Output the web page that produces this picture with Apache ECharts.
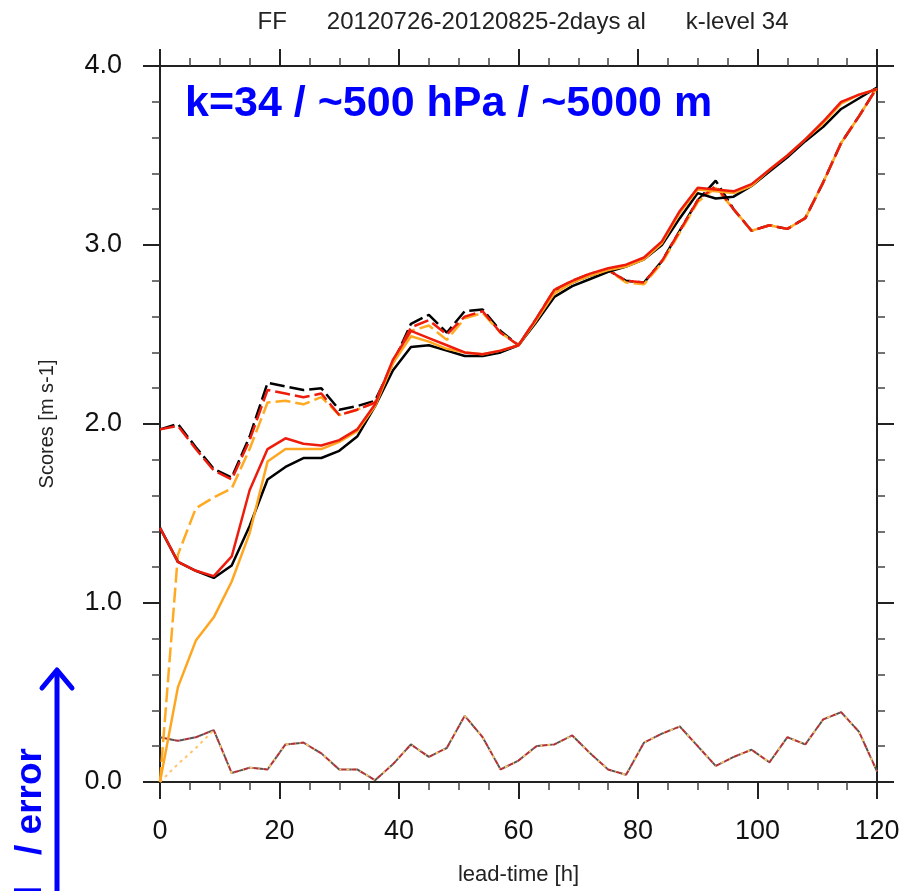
<!DOCTYPE html>
<html>
<head>
<meta charset="utf-8">
<title>FF k-level 34</title>
<script src="https://cdn.jsdelivr.net/npm/echarts@6/dist/echarts.min.js"></script>
<style>
    html, body { margin: 0; padding: 0; background: #fff; }
    #chart { width: 905px; height: 891px; }
</style>
</head>
<body>
<div id="chart"></div>
<script>
// lead times, every 3 h
var leadTime = [0, 3, 6, 9, 12, 15, 18, 21, 24, 27, 30, 33, 36, 39, 42, 45, 48, 51, 54, 57, 60,
    63, 66, 69, 72, 75, 78, 81, 84, 87, 90, 93, 96, 99, 102, 105, 108, 111, 114, 117, 120];

// solid lines
var solidBlack = [1.42, 1.23, 1.18, 1.14, 1.21, 1.43, 1.69, 1.76, 1.81, 1.81, 1.85, 1.93, 2.10, 2.30, 2.43, 2.44, 2.41, 2.38, 2.38, 2.40, 2.44,
    2.57, 2.71, 2.77, 2.81, 2.85, 2.88, 2.92, 3.00, 3.15, 3.29, 3.26, 3.27, 3.33, 3.41, 3.49, 3.58, 3.66, 3.76, 3.82, 3.88];
var solidOrange = [0.00, 0.53, 0.79, 0.92, 1.12, 1.39, 1.79, 1.86, 1.86, 1.86, 1.90, 1.96, 2.10, 2.34, 2.49, 2.46, 2.42, 2.40, 2.39, 2.41, 2.44,
    2.58, 2.73, 2.79, 2.83, 2.86, 2.88, 2.92, 3.01, 3.18, 3.31, 3.30, 3.29, 3.33, 3.42, 3.50, 3.59, 3.68, 3.79, 3.84, 3.87];
var solidRed = [1.42, 1.23, 1.18, 1.15, 1.26, 1.63, 1.86, 1.92, 1.89, 1.88, 1.91, 1.97, 2.11, 2.36, 2.52, 2.48, 2.44, 2.40, 2.39, 2.41, 2.44,
    2.59, 2.75, 2.80, 2.84, 2.87, 2.89, 2.93, 3.02, 3.19, 3.32, 3.31, 3.30, 3.34, 3.42, 3.50, 3.59, 3.69, 3.80, 3.84, 3.87];

// upper dashed lines
var dashBlack = [1.97, 2.00, 1.87, 1.75, 1.70, 1.93, 2.23, 2.21, 2.19, 2.20, 2.08, 2.10, 2.13, 2.34, 2.56, 2.61, 2.51, 2.63, 2.64, 2.52, 2.44,
    2.58, 2.74, 2.79, 2.83, 2.86, 2.80, 2.79, 2.91, 3.08, 3.25, 3.36, 3.20, 3.08, 3.11, 3.09, 3.15, 3.35, 3.57, 3.72, 3.88];
var dashOrange = [0.00, 1.27, 1.53, 1.59, 1.64, 1.86, 2.12, 2.13, 2.11, 2.15, 2.05, 2.08, 2.12, 2.34, 2.52, 2.55, 2.47, 2.59, 2.62, 2.51, 2.44,
    2.58, 2.74, 2.79, 2.83, 2.86, 2.79, 2.78, 2.90, 3.07, 3.24, 3.32, 3.20, 3.08, 3.11, 3.09, 3.15, 3.35, 3.57, 3.72, 3.88];
var dashRed = [1.97, 1.99, 1.86, 1.74, 1.69, 1.91, 2.19, 2.17, 2.15, 2.17, 2.05, 2.08, 2.12, 2.35, 2.54, 2.58, 2.50, 2.60, 2.63, 2.51, 2.44,
    2.59, 2.75, 2.80, 2.84, 2.86, 2.80, 2.79, 2.91, 3.08, 3.25, 3.33, 3.20, 3.08, 3.11, 3.09, 3.15, 3.35, 3.57, 3.72, 3.88];

// bottom dotted lines
var lowBlack = [0.25, 0.23, 0.25, 0.29, 0.05, 0.08, 0.07, 0.21, 0.22, 0.16, 0.07, 0.07, 0.01, 0.10, 0.21, 0.14, 0.19, 0.37, 0.25, 0.07, 0.12,
    0.20, 0.21, 0.26, 0.16, 0.07, 0.04, 0.22, 0.27, 0.31, 0.20, 0.09, 0.14, 0.18, 0.11, 0.25, 0.21, 0.35, 0.39, 0.28, 0.06];
var lowOrange = [0.00, 0.10, 0.19, 0.29, 0.05, 0.08, 0.07, 0.21, 0.22, 0.16, 0.07, 0.07, 0.01, 0.10, 0.21, 0.14, 0.19, 0.37, 0.25, 0.07, 0.12,
    0.20, 0.21, 0.26, 0.16, 0.07, 0.04, 0.22, 0.27, 0.31, 0.20, 0.09, 0.14, 0.18, 0.11, 0.25, 0.21, 0.35, 0.39, 0.28, 0.06];
var lowRed = lowBlack.slice();

var yTicks = ['0.0', '1.0', '2.0', '3.0', '4.0'];

(function () {
    var fig = {
        init() {
            this.chart = echarts.init(document.getElementById('chart'));
            this.draw();
        },
        pairs(ys) {
            return leadTime.map(function (h, i) { return [h, ys[i]]; });
        },
        line(name, ys, color, width, dash, offset) {
            return {
                name: name,
                type: 'line',
                data: this.pairs(ys),
                symbol: 'none',
                animation: false,
                lineStyle: { color: color, width: width, type: dash || 'solid', dashOffset: offset || 0 }
            };
        },
        axisX(pos, showLabel) {
            return {
                type: 'value', position: pos, min: 0, max: 120, interval: 20,
                axisLine: { show: true, onZero: false, lineStyle: { color: '#222', width: 2 } },
                axisTick: { show: true, inside: false, length: 17, lineStyle: { color: '#222', width: 2 } },
                minorTick: { show: true, splitNumber: 4, length: 8, lineStyle: { color: '#444', width: 1.5 } },
                splitLine: { show: false },
                axisLabel: { show: showLabel, fontSize: 27, margin: 36, color: '#111', fontFamily: 'Liberation Sans' },
                name: showLabel ? 'lead-time [h]' : '',
                nameLocation: 'middle', nameGap: 82,
                nameTextStyle: { fontSize: 22, color: '#222', fontFamily: 'Liberation Sans' }
            };
        },
        axisY(pos, showLabel) {
            return {
                type: 'value', position: pos, min: 0, max: 4, interval: 1,
                axisLine: { show: true, onZero: false, lineStyle: { color: '#222', width: 2 } },
                axisTick: { show: true, inside: false, length: 17, lineStyle: { color: '#222', width: 2 } },
                minorTick: { show: true, splitNumber: 5, length: 8, lineStyle: { color: '#444', width: 1.5 } },
                splitLine: { show: false },
                axisLabel: {
                    show: showLabel, fontSize: 27, margin: 38, color: '#111', fontFamily: 'Liberation Sans',
                    formatter: function (v) { return yTicks[Math.round(v)]; }
                },
                name: showLabel ? 'Scores [m s-1]' : '',
                nameLocation: 'middle', nameGap: 103,
                nameTextStyle: { fontSize: 20, color: '#222', fontFamily: 'Liberation Sans' }
            };
        },
        draw() {
            var option = {
                backgroundColor: '#fff',
                animation: false,
                title: {
                    text: 'FF      20120726-20120825-2days al      k-level 34',
                    left: 518, top: 5, textAlign: 'center',
                    textStyle: { fontSize: 24, fontWeight: 'normal', color: '#222', fontFamily: 'Liberation Sans' }
                },
                grid: { left: 160, right: 28, top: 66, bottom: 109 },
                xAxis: [this.axisX('bottom', true), this.axisX('top', false)],
                yAxis: [this.axisY('left', true), this.axisY('right', false)],
                series: [
                    this.line('low black', lowBlack, '#555', 2, [5, 5], 0),
                    this.line('low orange', lowOrange, '#ffc46a', 2, [3, 4], 0),
                    this.line('low red', lowRed, '#b0303c', 2, [5, 5], 5),
                    this.line('dash black', dashBlack, '#000', 2.5, [15, 5], 0),
                    this.line('dash orange', dashOrange, '#ffaa22', 2.5, [15, 5], 0),
                    this.line('dash red', dashRed, '#ee1c0c', 2.5, [15, 5], 0),
                    this.line('solid black', solidBlack, '#000', 2.5),
                    this.line('solid orange', solidOrange, '#ffa620', 2.5),
                    this.line('solid red', solidRed, '#ee1c0c', 2.5)
                ],
                graphic: [
                    {
                        type: 'text', left: 185, top: 83,
                        style: { text: 'k=34 / ~500 hPa / ~5000 m', fontSize: 43, fontWeight: 'bold', fill: '#0000ff', fontFamily: 'Liberation Sans' }
                    },
                    {
                        type: 'line', shape: { x1: 57, y1: 672, x2: 57, y2: 891 },
                        style: { stroke: '#0000ff', lineWidth: 5 }
                    },
                    {
                        type: 'polyline', shape: { points: [[42, 688], [57, 670], [72, 688]] },
                        style: { stroke: '#0000ff', lineWidth: 5, fill: null, lineCap: 'round', lineJoin: 'round' }
                    },
                    {
                        type: 'text', x: 31, y: 748, rotation: Math.PI / 2,
                        style: {
                            text: 'Signal   / error', fontSize: 37, fontWeight: 'bold', fill: '#0000ff',
                            fontFamily: 'Liberation Sans', align: 'right', verticalAlign: 'middle'
                        }
                    }
                ]
            };
            this.chart.setOption(option);
        }
    };

    fig.init();
})();
</script>
</body>
</html>
